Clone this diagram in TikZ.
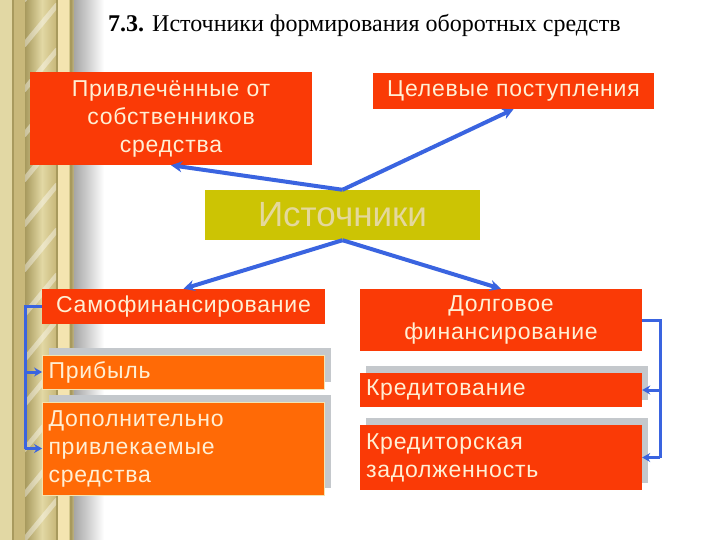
\documentclass[tikz,border=0pt]{standalone}
\usepackage{fontspec}
\setmainfont{Liberation Serif}
\newfontfamily\arial[LetterSpace=3.5]{Liberation Sans}
\newfontfamily\arialplain{Liberation Sans}
\usetikzlibrary{arrows.meta,shadows,calc}
\definecolor{myred}{HTML}{FA3A06}
\definecolor{myorange}{HTML}{FF6A06}
\definecolor{myolive}{HTML}{CCC404}
\definecolor{oliveTxt}{HTML}{E4D89C}
\definecolor{txt}{HTML}{FFEFD4}
\definecolor{myblue}{HTML}{3A64E0}
\definecolor{shgray}{HTML}{C4C8CC}
\definecolor{khA}{HTML}{D6C98E}
\definecolor{khB}{HTML}{C8B87A}
\definecolor{khC}{HTML}{A89A5E}
\definecolor{khD}{HTML}{E2D8A4}
\definecolor{cream}{HTML}{F4E4B0}
\tikzset{
  boxtext/.style={text=txt, font=\arial\fontsize{23}{28}\selectfont, inner sep=0pt},
  redbox/.style={boxtext, fill=myred, align=center},
  subbox/.style={boxtext, align=left, text width=#1, inner xsep=6pt,
     general shadow={fill=shgray, shadow xshift=6pt, shadow yshift=7pt}},
  subbox/.default=270pt,
  conn/.style={draw=myblue, line width=4pt, -{Stealth[length=11pt,width=11pt]}},
  brk/.style={draw=myblue, line width=3pt},
  brkarr/.style={brk, -{Stealth[length=8pt,width=9pt]}},
}
\begin{document}
\begin{tikzpicture}[x=1pt,y=-1pt]
\useasboundingbox (0,0) rectangle (720,540);
\fill[white] (0,0) rectangle (720,540);
% decorative left column
\fill[khA] (0,0) rectangle (72,540);
\fill[khD] (0,0) rectangle (12,540);
\fill[khB] (14,0) rectangle (25,540);
\shade[left color=khC, right color=khD] (25,0) rectangle (42,540);
\shade[left color=khD, right color=khB] (42,0) rectangle (56,540);
\fill[cream] (58,0) rectangle (69,540);
\draw[khC, line width=1.5pt] (13,0) -- (13,540);
\draw[khC, line width=1.2pt] (57,0) -- (57,540);
\draw[khC, line width=1pt] (70,0) -- (70,540);
\begin{scope}
\clip (25,0) rectangle (56,540);
\foreach \y in {0,45,...,585}
  \draw[white, opacity=0.4, line width=5pt, line cap=round] (24,\y) -- (57,\y-40);
\end{scope}
\shade[left color=khC, right color=white] (71,0) rectangle (82,540);
\shade[left color=gray!70, right color=white] (74,0) rectangle (104,540);
% title
\node[anchor=base west, inner sep=0pt, font=\fontsize{24}{28}\selectfont] (title) at (108,32)
  {\textbf{7.3.} Источники формирования оборотных средств};
% boxes
\node[redbox, minimum width=282pt, minimum height=93pt] (b1) at (171,118.5)
  {Привлечённые от\\собственников\\средства};
\node[redbox, minimum width=281pt, minimum height=36pt] (b2) at (513.5,91)
  {Целевые поступления};
\node[fill=myolive, text=oliveTxt, font=\arialplain\fontsize{35}{38}\selectfont,
  minimum width=275pt, minimum height=50pt, inner sep=0pt] (src) at (342.5,215)
  {Источники};
\node[redbox, minimum width=283pt, minimum height=35pt] (s1) at (183.5,306.5)
  {Самофинансирование};
\node[redbox, minimum width=282pt, minimum height=62pt] (d1) at (501,320)
  {Долговое\\финансирование};
\node[subbox, fill=myorange, draw=cream, line width=0.8pt, minimum height=34pt] (p1) at (183.5,372)
  {Прибыль};
\node[subbox, fill=myorange, draw=cream, line width=0.8pt, minimum height=93pt] (p2) at (183.5,448.5)
  {Дополнительно\\привлекаемые\\средства};
\node[subbox, fill=myred, minimum height=34pt] (k1) at (501,390)
  {Кредитование};
\node[subbox, fill=myred, minimum height=65pt] (k2) at (501,457.5)
  {Кредиторская\\задолженность};
% connectors
\draw[conn] (src.north) -- (b1.south);
\draw[conn] (src.north) -- (b2.south);
\draw[conn] (src.south) -- (s1.north);
\draw[conn] (src.south) -- (d1.north);
% brackets
\coordinate (lb) at (25,0);
\coordinate (rb) at (660,0);
\draw[brk] (s1.west) -- (s1.west -| lb) -- (p2.west -| lb);
\draw[brkarr] (p1.west -| lb) -- (p1.west);
\draw[brkarr] (p2.west -| lb) -- (p2.west);
\draw[brk] (d1.east) -- (d1.east -| rb) -- (k2.east -| rb);
\draw[brkarr] (k1.east -| rb) -- (k1.east);
\draw[brkarr] (k2.east -| rb) -- (k2.east);
\end{tikzpicture}
\end{document}
